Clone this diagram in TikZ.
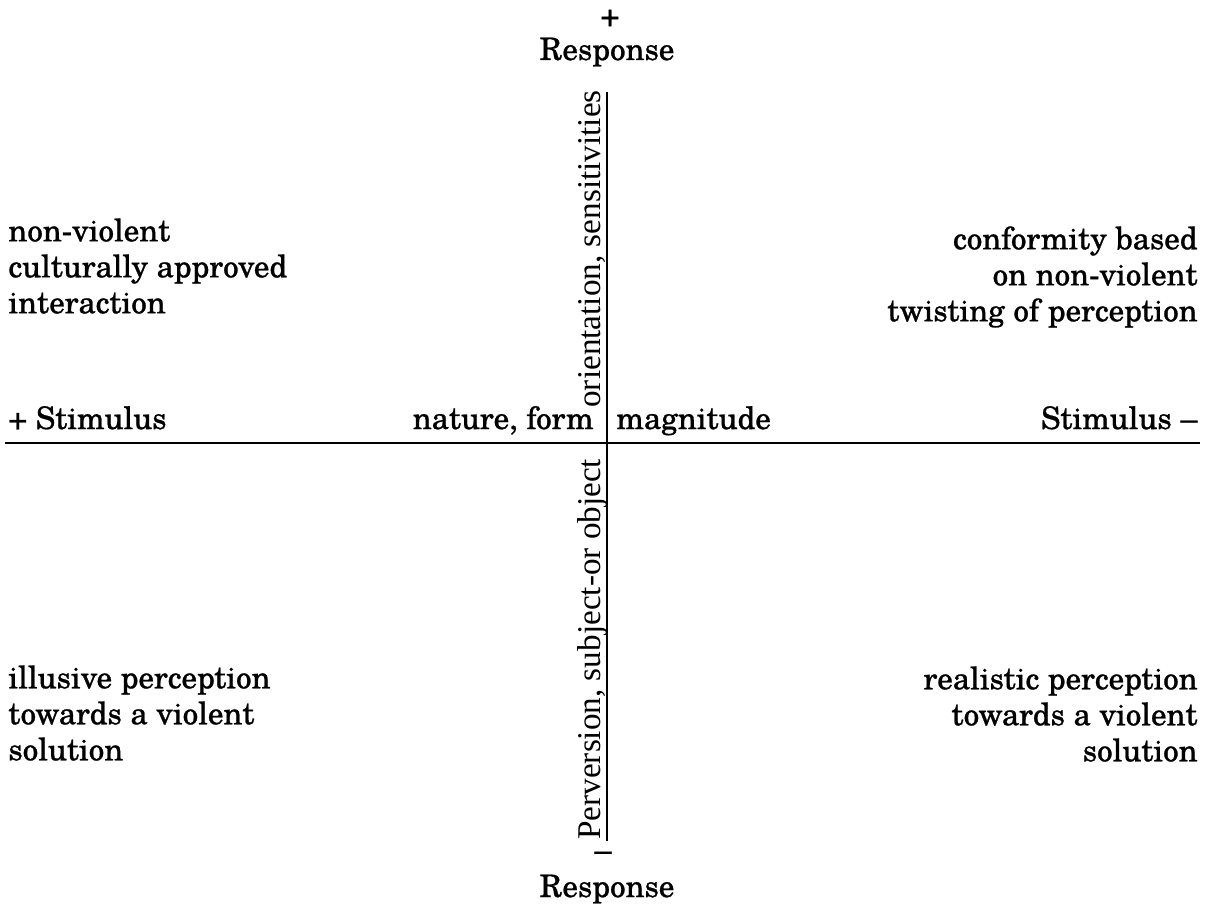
\documentclass[tikz,border=0pt]{standalone}
\usepackage{fontspec}
\setmainfont{TeX Gyre Schola}[FakeBold=0.8]
\newfontfamily\rotfont{Liberation Serif}
\begin{document}
\begin{tikzpicture}[x=0.5pt,y=-0.5pt,
  lbl/.style={inner sep=0pt,font=\fontsize{15.5}{18}\selectfont},
  blk/.style={lbl,align=#1},
  rot/.style={inner sep=0pt,rotate=90,font=\rotfont\fontsize{16.6}{18}\selectfont},
  axis/.style={line width=1.1pt}]
\useasboundingbox (0,0) rectangle (1209,904);
% axes ends
\coordinate (hl) at (5,443);
\coordinate (hr) at (1200,443);
\coordinate (vt) at (607,92);
\coordinate (vb) at (607,841);
\draw[axis,line width=1.3pt] (hl) -- (hr);
\draw[axis] (vt) -- (vb);
% axis labels
\node[lbl] (plus) at (610,18) {+};
\node[lbl,anchor=base] (respT) at (607,60) {Response};
\node[lbl] (minus) at (603,856) {--};
\node[lbl,anchor=base] (respB) at (607,897) {Response};
\node[lbl,anchor=base west] (stimL) at (8,429) {+ Stimulus};
\node[lbl,anchor=base east] (nat) at (594,429) {nature, form};
\node[lbl,anchor=base west] (mag) at (616,429) {magnitude};
\node[lbl,anchor=base east] (stimR) at (1198,429) {Stimulus --};
\node[rot,anchor=base west] (orient) at (600,408) {orientation, sensitivities};
\node[rot,anchor=base west] (perv) at (600,840) {Perversion, subject-or object};
% quadrant texts
\node[blk=left,anchor=north west] (q1) at (8,218) {non-violent\\culturally approved\\interaction};
\node[blk=right,anchor=north east] (q2) at (1198,226) {conformity based\\on non-violent\\twisting of perception};
\node[blk=left,anchor=north west] (q3) at (8,665) {illusive perception\\towards a violent\\solution};
\node[blk=right,anchor=north east] (q4) at (1198,666) {realistic perception\\towards a violent\\solution};
\end{tikzpicture}
\end{document}
